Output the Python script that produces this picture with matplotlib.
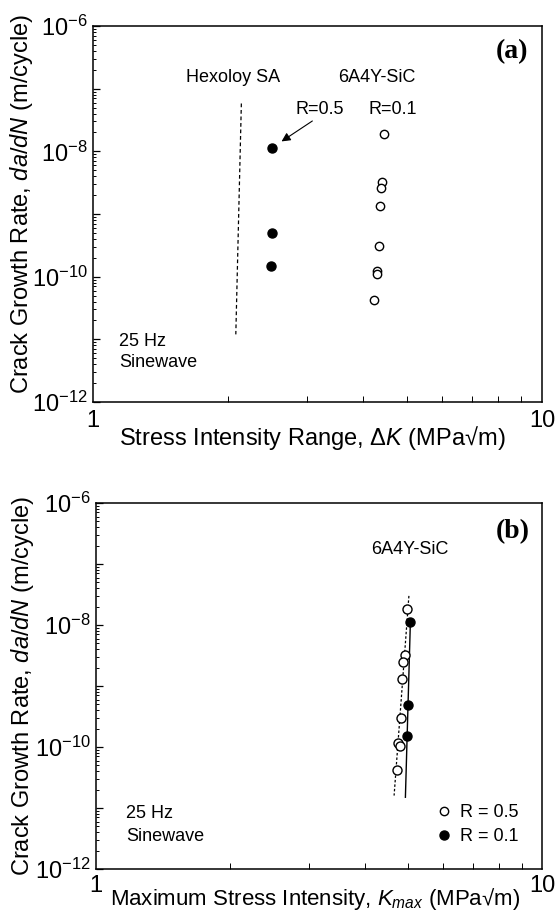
import numpy as np
import matplotlib
matplotlib.use('Agg')
import matplotlib.pyplot as plt
from matplotlib.ticker import LogLocator, FuncFormatter, NullFormatter
from matplotlib.lines import Line2D

plt.rcParams['font.family'] = ['Liberation Sans', 'DejaVu Sans']
plt.rcParams['mathtext.fontset'] = 'custom'
plt.rcParams['mathtext.rm'] = 'Liberation Sans'
plt.rcParams['mathtext.it'] = 'Liberation Sans:italic'
plt.rcParams['mathtext.bf'] = 'Liberation Sans:bold'
plt.rcParams['axes.unicode_minus'] = False

# panel (a): stress intensity range
hex_dk = [2.14, 2.08]
hex_rate = [5.8e-8, 1.2e-11]
a_filled_dk = [2.51, 2.50, 2.49]
a_filled_rate = [1.15e-8, 5.0e-10, 1.5e-10]
a_open_dk = [4.45, 4.41, 4.37, 4.35, 4.34, 4.28, 4.30, 4.23]
a_open_rate = [1.87e-8, 3.24e-9, 2.63e-9, 1.33e-9, 3.05e-10, 1.23e-10, 1.09e-10, 4.2e-11]

# panel (b): maximum stress intensity
b_open_kmax = [4.99, 4.92, 4.88, 4.85, 4.82, 4.76, 4.81, 4.73]
b_open_rate = [1.83e-8, 3.21e-9, 2.49e-9, 1.29e-9, 3.0e-10, 1.16e-10, 1.04e-10, 4.13e-11]
b_filled_kmax = [5.06, 5.01, 4.99]
b_filled_rate = [1.13e-8, 4.84e-10, 1.5e-10]
b_fit_open_k = [5.03, 4.66]
b_fit_open_rate = [3.0e-8, 1.6e-11]
b_fit_filled_k = [5.07, 4.94]
b_fit_filled_rate = [1.21e-8, 1.5e-11]

TICK_FS = 17
LABEL_FS = 17
NOTE_FS = 13


def y_fmt(v, pos):
    e = int(round(np.log10(v)))
    return r'$10^{%d}$' % e if e % 2 == 0 else ''


def style_axes(ax, xpad=6):
    ax.set_xscale('log')
    ax.set_yscale('log')
    ax.set_xlim(1, 10)
    ax.set_ylim(1e-12, 1e-6)
    ax.yaxis.set_major_locator(LogLocator(base=10, numticks=20))
    ax.yaxis.set_major_formatter(FuncFormatter(y_fmt))
    ax.yaxis.set_minor_locator(LogLocator(base=10, subs=np.arange(2, 10), numticks=20))
    ax.yaxis.set_minor_formatter(NullFormatter())
    ax.xaxis.set_major_formatter(FuncFormatter(lambda v, p: '%d' % round(v)))
    ax.xaxis.set_minor_formatter(NullFormatter())
    ax.tick_params(which='major', direction='in', length=5, width=0.9,
                   labelsize=TICK_FS)
    ax.tick_params(which='minor', direction='in', length=2.5, width=0.7)
    ax.tick_params(axis='y', which='major', pad=4)
    ax.tick_params(axis='x', which='major', length=0, pad=xpad)
    ax.tick_params(axis='x', which='minor', length=4)
    for s in ax.spines.values():
        s.set_linewidth(1.1)


fig = plt.figure(figsize=(5.56, 9.14), dpi=100)
ax_a = fig.add_axes([93 / 556, 1 - 402 / 914, 449 / 556, 376 / 914])
ax_b = fig.add_axes([96 / 556, 1 - 869 / 914, 446 / 556, 366 / 914])

# ---- (a)
style_axes(ax_a)
ax_a.plot(hex_dk, hex_rate, color='black', lw=0.9, ls=(0, (3, 2.2)))
ax_a.plot(a_filled_dk, a_filled_rate, 'o', color='black', ms=6.5)
ax_a.plot(a_open_dk, a_open_rate, 'o', mfc='white', mec='black', mew=1.0, ms=6)
ax_a.annotate('', xy=(2.63, 1.44e-8), xytext=(3.08, 3.05e-8),
              arrowprops=dict(arrowstyle='-|>', lw=0.8, color='black',
                              mutation_scale=13, shrinkA=0, shrinkB=0))
ax_a.text(0.311, 0.864, 'Hexoloy SA', transform=ax_a.transAxes,
          ha='center', va='center', fontsize=NOTE_FS)
ax_a.text(0.632, 0.864, '6A4Y-SiC', transform=ax_a.transAxes,
          ha='center', va='center', fontsize=NOTE_FS)
ax_a.text(0.505, 0.779, 'R=0.5', transform=ax_a.transAxes,
          ha='center', va='center', fontsize=NOTE_FS)
ax_a.text(0.667, 0.779, 'R=0.1', transform=ax_a.transAxes,
          ha='center', va='center', fontsize=NOTE_FS)
ax_a.text(0.934, 0.932, '(a)', transform=ax_a.transAxes, ha='center',
          va='center', fontsize=20, weight='bold', family='Liberation Serif')
ax_a.text(0.059, 0.16, '25 Hz', transform=ax_a.transAxes,
          ha='left', va='center', fontsize=NOTE_FS)
ax_a.text(0.059, 0.104, 'Sinewave', transform=ax_a.transAxes,
          ha='left', va='center', fontsize=NOTE_FS)
ax_a.set_xlabel(r'Stress Intensity Range, $\Delta K$ (MPa√m)', fontsize=LABEL_FS)
ax_a.set_ylabel(r'Crack Growth Rate, $da/dN$ (m/cycle)', fontsize=LABEL_FS)
ax_a.xaxis.set_label_coords(0.488, -0.058)
ax_a.yaxis.set_label_coords(-0.13, 0.527)

# ---- (b)
style_axes(ax_b, xpad=4)
ax_b.plot(b_fit_open_k, b_fit_open_rate, color='black', lw=0.9, ls=(0, (2, 1.6)))
ax_b.plot(b_fit_filled_k, b_fit_filled_rate, color='black', lw=1.0)
ax_b.plot(b_open_kmax, b_open_rate, 'o', mfc='white', mec='black', mew=1.0, ms=6.5)
ax_b.plot(b_filled_kmax, b_filled_rate, 'o', color='black', ms=6.5)
ax_b.text(0.703, 0.872, '6A4Y-SiC', transform=ax_b.transAxes,
          ha='center', va='center', fontsize=NOTE_FS)
ax_b.text(0.934, 0.922, '(b)', transform=ax_b.transAxes, ha='center',
          va='center', fontsize=20, weight='bold', family='Liberation Serif')
ax_b.text(0.067, 0.151, '25 Hz', transform=ax_b.transAxes,
          ha='left', va='center', fontsize=NOTE_FS)
ax_b.text(0.067, 0.089, 'Sinewave', transform=ax_b.transAxes,
          ha='left', va='center', fontsize=NOTE_FS)
handles = [Line2D([], [], ls='none', marker='o', mfc='white', mec='black', mew=1.0, ms=6),
           Line2D([], [], ls='none', marker='o', color='black', ms=6.5)]
ax_b.legend(handles, ['R = 0.5', 'R = 0.1'], loc='center left',
            bbox_to_anchor=(0.765, 0.121), frameon=False, fontsize=NOTE_FS,
            handlelength=0.8, handletextpad=0.45, labelspacing=0.4,
            borderpad=0, borderaxespad=0)
ax_b.set_xlabel(r'Maximum Stress Intensity, $K_{max}$ (MPa√m)', fontsize=16)
ax_b.set_ylabel(r'Crack Growth Rate, $da/dN$ (m/cycle)', fontsize=LABEL_FS)
ax_b.xaxis.set_label_coords(0.49, -0.047)
ax_b.yaxis.set_label_coords(-0.135, 0.5)

fig.savefig('out.png', dpi=100)
